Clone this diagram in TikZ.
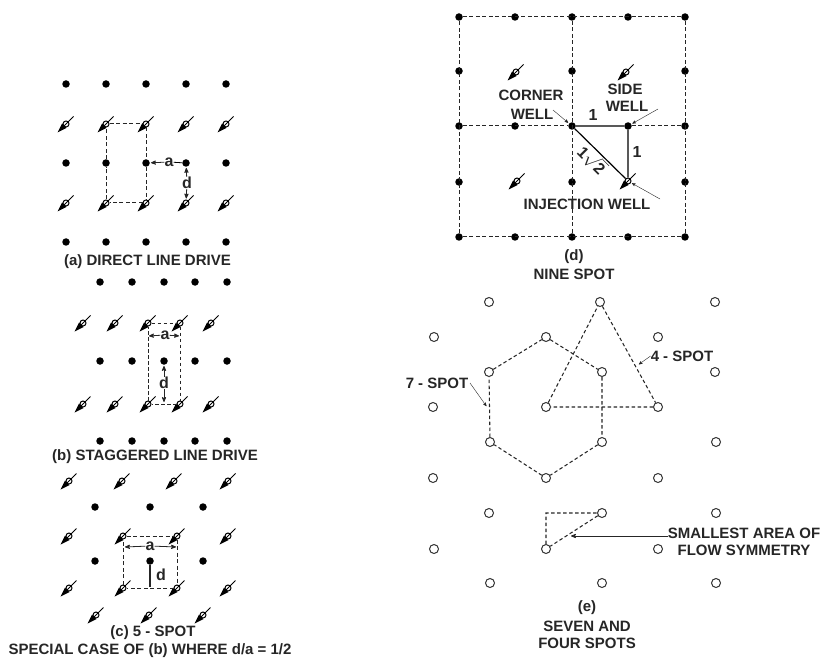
\documentclass[tikz,border=0pt]{standalone}
\usepackage{fontspec}
\setmainfont{Liberation Sans}
\usetikzlibrary{arrows,
                arrows.meta,
                calc,
                positioning}
\tikzset{
	%Define standard arrow tip
	>=stealth',
	%Define style for the well symbols
	spot/.style={
	       circle,
	       fill=black,
	       inner sep=0pt,
	       minimum size=7.5pt},
	openspot/.style={
	       circle,
	       draw=black!80, line width=1pt,
	       fill=white,
	       inner sep=0pt,
	       minimum size=9pt},
	well/.style={
	       circle,
	       draw=black, line width=1pt,
	       fill=white,
	       inner sep=0pt,
	       minimum size=6pt},
	tag/.style={
	       font=\fontsize{15}{17}\selectfont\bfseries,
	       text=black!85,
	       inner sep=0pt},
	dim/.style={
	       font=\fontsize{16}{18}\selectfont\bfseries,
	       text=black!85,
	       inner sep=0pt},
	% Define line styles
	dsh/.style={
	       line width=1pt,
	       black!85,
	       dash pattern=on 4pt off 2.5pt},
	dshthin/.style={
	       line width=1.05pt,
	       black!85,
	       dash pattern=on 3.5pt off 2.5pt},
	pil/.style={
	       ->,
	       thick,
	       shorten >=1pt,
	       black!85}
}
\newcommand{\wellnode}[3]{
	\fill[black,shift={(#2,#3)}] (-8.5,8.5) -- (-4,-0.5) -- (0.5,4) -- cycle;
	\node[well] (#1) at (#2,#3) {};
	\draw[black,line width=0.8pt,shift={(#2,#3)}] (-2,2) -- (7.5,-7.5);
}
\begin{document}
\begin{tikzpicture}[x=1pt,y=-1pt, node distance=5pt]
	\useasboundingbox (0,0) rectangle (821,660);
	% direct line drive
	\foreach \y/\n in {84/1,163/3,242/5}{
		\foreach \xx [count=\i] in {66,106,146,186,226}
			\node[spot] (a\n\i) at (\xx,\y) {};
	}
	\foreach \y/\n in {124/2,203/4}{
		\foreach \xx [count=\i] in {66,106,146,186,226}{
			\wellnode{a\n\i}{\xx}{\y}
		}
	}
	\draw[dsh] (a22) -- (a23) -- (a33) -- (a43) -- (a42) -- (a32) -- (a22);
	\node[dim] (alabel) at (169,162) {a};
	\node[dim] (dlabel) at (187,183) {d};
	\draw[pil] (alabel) -- (a33);
	\draw[thick] (alabel) -- (a34);
	\draw[pil] (dlabel) -- (a34);
	\draw[pil] (dlabel) -- (a44);
	\node[tag] (acap) at (147.5,262) {(a) DIRECT LINE DRIVE};
	% staggered line drive
	\foreach \y/\n in {282/1,361/3,441/5}{
		\foreach \xx [count=\i] in {100,132,164,195,227}
			\node[spot] (b\n\i) at (\xx,\y) {};
	}
	\foreach \y/\n in {323/2,404/4}{
		\foreach \xx [count=\i] in {83,115,148,180,211}{
			\wellnode{b\n\i}{\xx}{\y}
		}
	}
	\draw[dshthin,line width=0.75pt] (b23) -- (b24) -- (b44) -- (b43) -- (b23);
	\node[dim] (blabela) at (165,335) {a};
	\node[dim] (blabeld) at (164,383) {d};
	\coordinate (bleft) at (148,336);
	\coordinate (bright) at (180,336);
	\coordinate (bfoot) at (164,403);
	\draw[pil] (blabela) -- (bleft);
	\draw[pil] (blabela) -- (bright);
	\draw[pil] (blabeld) -- (b33);
	\draw[pil] (blabeld) -- (bfoot);
	\node[tag] (bcap) at (155,457) {(b) STAGGERED LINE DRIVE};
	% five spot
	\foreach \y/\n in {507/2,561/4}{
		\foreach \xx [count=\i] in {95,150,203}
			\node[spot] (c\n\i) at (\xx,\y) {};
	}
	\foreach \xx [count=\i] in {96,149,203}{
		\wellnode{c6\i}{\xx}{615}
	}
	\foreach \xx [count=\i] in {69,122,174,228}{
		\wellnode{c1\i}{\xx}{481}
	}
	\foreach \y/\n in {536/3,588/5}{
		\foreach \xx [count=\i] in {69,123,177,228}{
			\wellnode{c\n\i}{\xx}{\y}
		}
	}
	\draw[dsh] (c32) -- (c33) -- (c53) -- (c52) -- (c32);
	\node[dim] (clabela) at (150,546) {a};
	\node[dim] (clabeld) at (161,575) {d};
	\coordinate (cleft) at (124,547);
	\coordinate (cright) at (177,547);
	\coordinate (cfoot) at (150,587);
	\draw[pil] (clabela) -- (cleft);
	\draw[pil] (clabela) -- (cright);
	\draw[line width=1.2pt,black!85] (c42) -- (cfoot);
	\node[tag] (ccap) at (153,633) {(c) 5 - SPOT};
	\node[tag] (ccapb) at (150,651) {SPECIAL CASE OF (b) WHERE d/a = 1/2};
	% nine spot
	\foreach \y/\r in {17/1,126/3,237/5}{
		\foreach \xx/\c in {459/1,515/2,572/3,628/4,685/5}
			\node[spot] (d\r\c) at (\xx,\y) {};
	}
	\foreach \y/\r in {71/2,182/4}{
		\foreach \xx/\c in {459/1,572/3,685/5}
			\node[spot] (d\r\c) at (\xx,\y) {};
	}
	\wellnode{w1}{516}{72}
	\wellnode{w2}{626}{72}
	\wellnode{w3}{517}{181}
	\wellnode{w4}{628}{181}
	\draw[dsh] (d11) -- (d15) -- (d55) -- (d51) -- (d11);
	\draw[dsh] (d13) -- (d53);
	\draw[dsh] (d31) -- (d33);
	\draw[dsh] (d34) -- (d35);
	\draw[line width=1.2pt] (d33) -- (d34) -- (w4) -- (d33);
	\node[tag] (corner) at (531,95) {CORNER};
	\node[tag] (cornerb) at (532,114) {WELL};
	\node[tag] (side) at (625,89) {SIDE};
	\node[tag] (sideb) at (627,106) {WELL};
	\node[dim] (one) at (593,115) {1};
	\node[dim] (oneb) at (637,152) {1};
	\node[dim,rotate=-45] (root) at (592,160) {1$\sqrt{\mbox{\bfseries 2}}$};
	\node[tag] (inj) at (587,204) {INJECTION WELL};
	\coordinate (cornerend) at (553,110);
	\coordinate (sideend) at (658,109);
	\coordinate (injend) at (660,199);
	\draw[pil,thin] (cornerend) -- (d33);
	\draw[pil,thin] (sideend) -- (d34);
	\draw[pil,thin] (injend) -- (w4);
	\node[tag] (dcap) at (574,257) {(d)};
	\node[tag,below=5pt of dcap] (dcapb) {NINE SPOT};
	% seven and four spots
	\foreach \y/\r/\xa/\xb/\xc in {302/1/489/600/715,372/3/489/602/715,442/5/490/602/716,513/7/489/602/716,583/9/490/602/716,337/2/434/546/658,407/4/433/546/658,478/6/433/546/658,549/8/434/546/658}{
		\node[openspot] (e\r a) at (\xa,\y) {};
		\node[openspot] (e\r b) at (\xb,\y) {};
		\node[openspot] (e\r c) at (\xc,\y) {};
	}
	\draw[dshthin] (e2b) -- (e3b) -- (e5b) -- (e6b) -- (e5a) -- (e3a) -- (e2b);
	\draw[dshthin] (e1b) -- (e4c) -- (e4b) -- (e1b);
	\coordinate (ecorner) at (546,513);
	\draw[dshthin] (e8b) -- (ecorner) -- (e7b) -- (e8b);
	\node[tag] (four) at (682,356) {4 - SPOT};
	\node[tag] (seven) at (437,383) {7 - SPOT};
	\coordinate (fourend) at (638,365);
	\coordinate (sevena) at (470,383);
	\coordinate (sevenb) at (487,407);
	\draw[pil,thin] (four.west) -- (fourend);
	\draw[pil,thin] (sevena) -- (sevenb);
	\node[tag] (small) at (744,533) {SMALLEST AREA OF};
	\node[tag,below=6pt of small] (smallb) {FLOW SYMMETRY};
	\coordinate (smallend) at (570,536);
	\draw[pil] (small.west |- smallend) -- (smallend);
	\node[tag] (ecap) at (587,608) {(e)};
	\node[tag,below=6pt of ecap] (ecapb) {SEVEN AND};
	\node[tag,below=6pt of ecapb] (ecapc) {FOUR SPOTS};
\end{tikzpicture}
\end{document}
